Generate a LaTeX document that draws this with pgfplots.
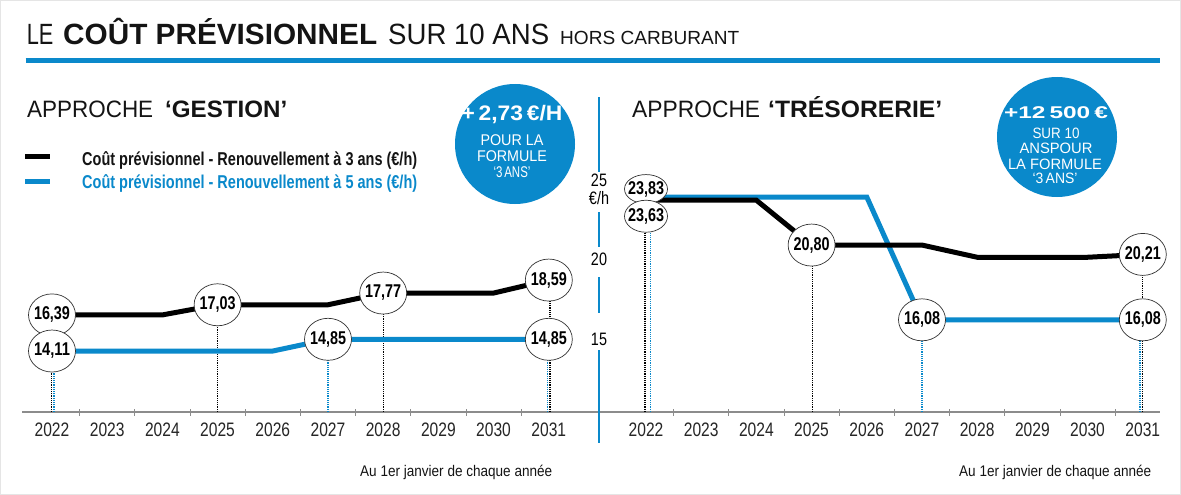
\documentclass[border=0pt]{standalone}
\usepackage{fontspec}
\setmainfont{Liberation Sans}
\newfontfamily\narrow[FakeStretch=0.8]{Liberation Sans}
\usepackage{graphicx}
\usepackage{pgfplots}
\pgfplotsset{compat=1.18}
\usetikzlibrary{shapes.geometric}
\definecolor{bl}{HTML}{0A89CB}
\definecolor{axgray}{HTML}{8C8C8C}
\newcommand\fs[1]{\fontsize{#1}{#1}\selectfont}
\newcommand\fitw[2]{\resizebox{#1}{\height}{#2}}
\tikzset{
  bub/.style={ellipse, draw=black!80, line width=0.7pt, fill=white,
    minimum width=47pt, minimum height=42pt, inner sep=0pt, anchor=center,
    text=black, font=\bfseries\fs{18.5}},
  drop/.style={densely dotted, line width=1.2pt},
}
\pgfplotsset{
  panel/.style={
    scale only axis, anchor=south west, height=322pt,
    ymin=10.26, ymax=30.59, clip=false,
    axis x line*=bottom, axis y line*=left,
    x axis line style={draw=axgray, line width=1.8pt, -},
    y axis line style={draw=none},
    xtick={2022,...,2031},
    xticklabels={2022,2023,2024,2025,2026,2027,2028,2029,2030,2031},
    xticklabel style={font=\narrow\fs{19.5}, text=black!85, anchor=north, inner sep=0pt, yshift=-11pt},
    major tick length=0pt,
    minor xtick={2022.5,2023.5,...,2030.5},
    minor x tick style={draw=axgray, line width=0.9pt},
    minor tick length=7pt, tick align=center,
  },
  bubbles/.style={draw=none,
    nodes near coords={\makebox[0pt]{\fitw{36pt}{\pgfplotspointmeta}}},
    point meta=explicit symbolic, nodes near coords style={bub,#1}},
  bubbles/.default={},
}
\begin{document}
\begin{tikzpicture}
\path[use as bounding box, fill=white] (0,0) rectangle (1181pt,-495pt);

% ---------- left panel: approche gestion ----------
\begin{axis}[panel, at={(22pt,-412pt)}, width=576pt,
  xmin=2021.4565, xmax=2031.891, ytick=\empty]
  % drop lines
  \addplot[black, drop] coordinates {(2021.985,10.26) (2021.985,16.39)};
  \addplot[bl, drop] coordinates {(2022.035,10.26) (2022.035,14.11)};
  \addplot[black, drop] coordinates {(2025,10.26) (2025,17.03)};
  \addplot[bl, drop] coordinates {(2027,10.26) (2027,14.85)};
  \addplot[black, drop] coordinates {(2028,10.26) (2028,17.77)};
  \addplot[black, drop] coordinates {(2031.02,10.26) (2031.02,18.59)};
  \addplot[bl, drop] coordinates {(2030.98,10.26) (2030.98,14.85)};
  % renouvellement a 3 ans
  \addplot[black, line width=5pt] coordinates {
    (2022,16.39) (2023,16.39) (2024,16.39) (2025,17.03) (2026,17.03)
    (2027,17.03) (2028,17.77) (2029,17.77) (2030,17.77) (2031,18.59)};
  % renouvellement a 5 ans
  \addplot[bl, line width=5pt] coordinates {
    (2022,14.11) (2023,14.11) (2024,14.11) (2025,14.11) (2026,14.11)
    (2027,14.85) (2028,14.85) (2029,14.85) (2030,14.85) (2031,14.85)};
  % value bubbles
  \addplot[bubbles] table[meta=lab] {
    x y lab
    2022 16.39 16,39
    2022 14.11 14,11
    2025 17.03 17,03
    2027 14.85 14,85
    2028 17.77 17,77
    2031 18.59 18,59
    2031 14.85 14,85
  };
\end{axis}

% ---------- right panel: approche tresorerie ----------
\begin{axis}[panel, at={(598pt,-412pt)}, width=562pt,
  xmin=2021.1304, xmax=2031.3116,
  ytick={15,20,25}, yticklabels={15,20,25},
  extra y ticks={23.9}, extra y tick labels={€/h},
  yticklabel style={font=\narrow\fs{18}, text=black, anchor=center, inner sep=0pt, xshift=1pt, yshift=-2pt}]
  \addplot[black, drop] coordinates {(2021.98,10.26) (2021.98,23.63)};
  \addplot[bl, drop] coordinates {(2022.08,10.26) (2022.08,23.83)};
  \addplot[black, drop] coordinates {(2025.02,10.26) (2025.02,20.80)};
  \addplot[bl, drop] coordinates {(2027,10.26) (2027,16.08)};
  \addplot[black, drop] coordinates {(2031.0,10.26) (2031.0,20.21)};
  \addplot[bl, drop] coordinates {(2030.95,10.26) (2030.95,16.08)};
  % renouvellement a 5 ans
  \addplot[bl, line width=5pt] coordinates {
    (2022,23.83) (2023,23.83) (2024,23.83) (2025,23.83) (2026,23.83)
    (2027,16.08) (2028,16.08) (2029,16.08) (2030,16.08) (2031,16.08)};
  % renouvellement a 3 ans
  \addplot[black, line width=5pt] coordinates {
    (2022,23.63) (2023,23.63) (2024,23.63) (2025,20.80) (2026,20.80)
    (2027,20.80) (2028,20.03) (2029,20.03) (2030,20.03) (2031,20.21)};
  \addplot[bubbles] table[meta=lab] {
    x y lab
    2025 20.80 20,80
    2027 16.08 16,08
    2031 20.21 20,21
    2031 16.08 16,08
  };
  \addplot[bubbles={minimum width=43pt, minimum height=29pt, yshift=8pt}]
    table[meta=lab] {
    x y lab
    2022 23.83 23,83
  };
  \addplot[bubbles={minimum width=43pt, minimum height=32pt, yshift=-16pt}]
    table[meta=lab] {
    x y lab
    2022 23.63 23,63
  };
\end{axis}

% ---------- titles, legend, bubbles ----------
\begin{scope}[x=1pt, y=-1pt]
  \draw[gray!20, line width=1pt] (0.5,0.5) rectangle (1180.5,494.5);
  \begin{scope}[every node/.style={anchor=base west, inner sep=0pt, text=black!92}]
    \node at (26.7,45) {\fitw{26.6pt}{\fs{29.3}LE}};
    \node at (63,45) {\fitw{314pt}{\fs{29.3}\bfseries COÛT PRÉVISIONNEL}};
    \node at (388,45) {\fitw{161pt}{\fs{29.3}SUR 10 ANS}};
    \node at (560,45) {\fitw{179pt}{\fs{19}HORS CARBURANT}};
    \node at (27,117) {\fitw{126pt}{\fs{23.7}APPROCHE}};
    \node at (165,117) {\fitw{122pt}{\fs{23.7}\bfseries ‘GESTION’}};
    \node at (632,117) {\fitw{128pt}{\fs{23.7}APPROCHE}};
    \node at (768,117) {\fitw{174pt}{\fs{23.7}\bfseries ‘TRÉSORERIE’}};
    \node at (82,165) {\fitw{335pt}{\narrow\bfseries\fs{18.6}Coût prévisionnel - Renouvellement à 3 ans (€/h)}};
    \node[text=bl] at (82,188.5) {\fitw{335pt}{\narrow\bfseries\fs{18.6}Coût prévisionnel - Renouvellement à 5 ans (€/h)}};
    \node at (360,476) {\fitw{192pt}{\narrow\fs{15.4}Au 1er janvier de chaque année}};
    \node at (959,476) {\fitw{192pt}{\narrow\fs{15.4}Au 1er janvier de chaque année}};
  \end{scope}
  \draw[bl, line width=5pt] (25.7,60.5) -- (1160,60.5);
  \draw[black, line width=5pt] (25,156.7) -- (50,156.7);
  \draw[bl, line width=5pt] (25,181.7) -- (50,181.7);
  % separator
  \draw[bl, line width=1.8pt] (599,97) -- (599,172) (599,212) -- (599,247)
    (599,277) -- (599,313) (599,350) -- (599,443);
  % bubbles
  \fill[bl] (515,144) circle[radius=60pt];
  \fill[bl] (1057,137) circle[radius=60pt];
  \begin{scope}[every node/.style={anchor=base, inner sep=0pt, text=white}]
    \node at (512,120) {\fitw{101pt}{\fs{21}\bfseries +\,2,73\,€/H}};
    \node at (512,145.5) {\fitw{63pt}{\fs{15.5}POUR LA}};
    \node at (512,161.8) {\fitw{70pt}{\fs{15.5}FORMULE}};
    \node at (512,177) {\fitw{37pt}{\fs{15.5}‘3\,ANS’}};
    \node at (1056,118.3) {\fitw{104pt}{\fs{17}\bfseries +12\,500\,€}};
    \node at (1056,138.3) {\fitw{47pt}{\fs{15}SUR 10}};
    \node at (1056,153.5) {\fitw{73pt}{\fs{15}ANSPOUR}};
    \node at (1055,169) {\fitw{94pt}{\fs{15}LA FORMULE}};
    \node at (1055,183) {\fitw{45pt}{\fs{15}‘3\,ANS’}};
  \end{scope}
\end{scope}
\end{tikzpicture}
\end{document}
